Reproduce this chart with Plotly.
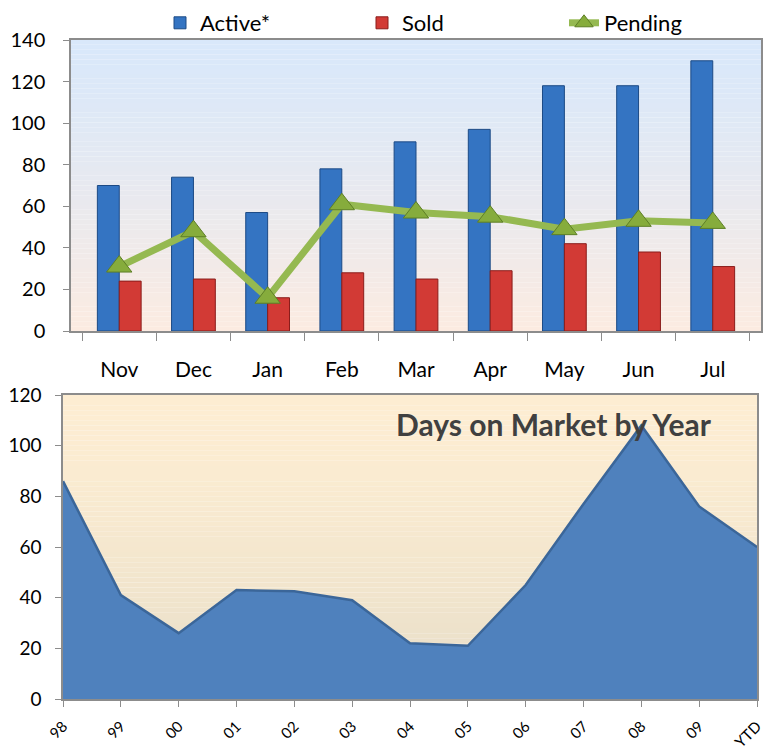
import plotly.graph_objects as go

# ---- data ----
months = ["Nov", "Dec", "Jan", "Feb", "Mar", "Apr", "May", "Jun", "Jul"]
active = [70, 74, 57, 78, 91, 97, 118, 118, 130]
sold = [24, 25, 16, 28, 25, 29, 42, 38, 31]
pending = [31, 48, 16, 61, 57, 55, 49, 53, 52]

years = ["98", "99", "00", "01", "02", "03", "04", "05", "06", "07", "08", "09", "YTD"]
days_on_market = [86, 41, 26, 43, 42.5, 39, 22, 21, 45, 77, 108, 76, 60]

# the page body has an 8px margin, so the figure is sized to fill the rest
OFF = 8
W, H = 771 - OFF, 751 - OFF
FONT = "Lato"

def px_x(v):
    return (v - OFF) / W

def px_y(v):
    return 1 - (v - OFF) / H

top_x = [px_x(71), px_x(761)]
top_y = [px_y(331), px_y(40)]
bot_x = [px_x(63), px_x(757)]
bot_y = [px_y(699), px_y(395)]

fig = go.Figure()

fig.add_trace(go.Bar(
    x=months, y=active, name="Active*",
    marker=dict(color="#3474C2", line=dict(color="#1C4A85", width=1)),
    xaxis="x", yaxis="y",
))
fig.add_trace(go.Bar(
    x=months, y=sold, name="Sold",
    marker=dict(color="#D23A35", line=dict(color="#8A1D1B", width=1)),
    xaxis="x", yaxis="y",
))
fig.add_trace(go.Scatter(
    x=months, y=pending, name="Pending", mode="lines+markers",
    line=dict(color="#95B951", width=7),
    marker=dict(symbol="triangle-up", size=22, color="#86AC3C",
                line=dict(color="#5E7F26", width=1)),
    xaxis="x", yaxis="y",
))
fig.add_trace(go.Scatter(
    x=years, y=days_on_market, mode="lines", fill="tozeroy",
    fillcolor="#4F81BD", line=dict(color="#3B6699", width=2.5),
    showlegend=False, xaxis="x2", yaxis="y2",
))

def lerp(c1, c2, t):
    a = [int(c1[i:i + 2], 16) for i in (1, 3, 5)]
    b = [int(c2[i:i + 2], 16) for i in (1, 3, 5)]
    return "rgb(%d,%d,%d)" % tuple(round(a[k] + (b[k] - a[k]) * t) for k in range(3))

shapes = []
N = 60
for i in range(N):
    t = i / (N - 1)
    shapes.append(dict(type="rect", xref="x domain", yref="y domain",
                       x0=0, x1=1, y0=1 - (i + 1) / N, y1=1 - i / N,
                       fillcolor=lerp("#D9E8FA", "#FCEBE1", t ** 1.3),
                       line=dict(width=0), layer="below"))
    shapes.append(dict(type="rect", xref="x2 domain", yref="y2 domain",
                       x0=0, x1=1, y0=1 - (i + 1) / N, y1=1 - i / N,
                       fillcolor=lerp("#FDEDD2", "#E6DDC8", t ** 1.5),
                       line=dict(width=0), layer="below"))

axis_line = "#8C8C8C"
tickfont = dict(family=FONT, size=20, color="#000000")

fig.update_layout(
    width=W, height=H,
    margin=dict(l=0, r=0, t=0, b=0, autoexpand=False),
    paper_bgcolor="white", plot_bgcolor="rgba(0,0,0,0)",
    font=dict(family=FONT, size=18, color="#000000"),
    barmode="group", bargap=0.41, bargroupgap=0,
    shapes=shapes,
    showlegend=True,
    legend=dict(orientation="h", x=px_x(160), xanchor="left", y=px_y(2), yanchor="top",
                font=dict(family=FONT, size=22, color="#000000"),
                entrywidth=157, entrywidthmode="pixels",
                bgcolor="rgba(0,0,0,0)", traceorder="normal"),
    xaxis=dict(domain=top_x, anchor="y", type="category",
               showline=True, linecolor=axis_line, linewidth=1.5, mirror=True,
               ticks="outside", tickson="boundaries", ticklen=8, tickcolor=axis_line,
               ticklabelstandoff=19, tickfont=dict(family=FONT, size=21, color="#000000"),
               showgrid=False),
    yaxis=dict(domain=top_y, anchor="x", range=[0, 140], dtick=20,
               showline=True, linecolor=axis_line, linewidth=1.5, mirror=True,
               ticks="outside", ticklen=6, tickcolor=axis_line,
               ticklabelstandoff=14, tickfont=tickfont, showgrid=False, zeroline=False),
    xaxis2=dict(domain=bot_x, anchor="y2", type="category", range=[0, 12],
                showline=True, linecolor=axis_line, linewidth=1.5, mirror=True,
                ticks="outside", ticklen=6, tickcolor=axis_line, tickangle=-45,
                ticklabelstandoff=5, tickfont=dict(family=FONT, size=15, color="#000000"),
                showgrid=False),
    yaxis2=dict(domain=bot_y, anchor="x2", range=[0, 120], dtick=20,
                showline=True, linecolor=axis_line, linewidth=1.5, mirror=True,
                ticks="outside", ticklen=6, tickcolor=axis_line,
                ticklabelstandoff=10, tickfont=dict(family=FONT, size=19, color="#000000"),
                showgrid=False, zeroline=False),
    annotations=[dict(text="<b>Days on Market by Year</b>", xref="paper", yref="paper",
                      x=px_x(394), y=px_y(424), xanchor="left", yanchor="middle",
                      showarrow=False,
                      font=dict(family=FONT, size=30, color="#404040"))],
)

fig.write_html("out.html")
